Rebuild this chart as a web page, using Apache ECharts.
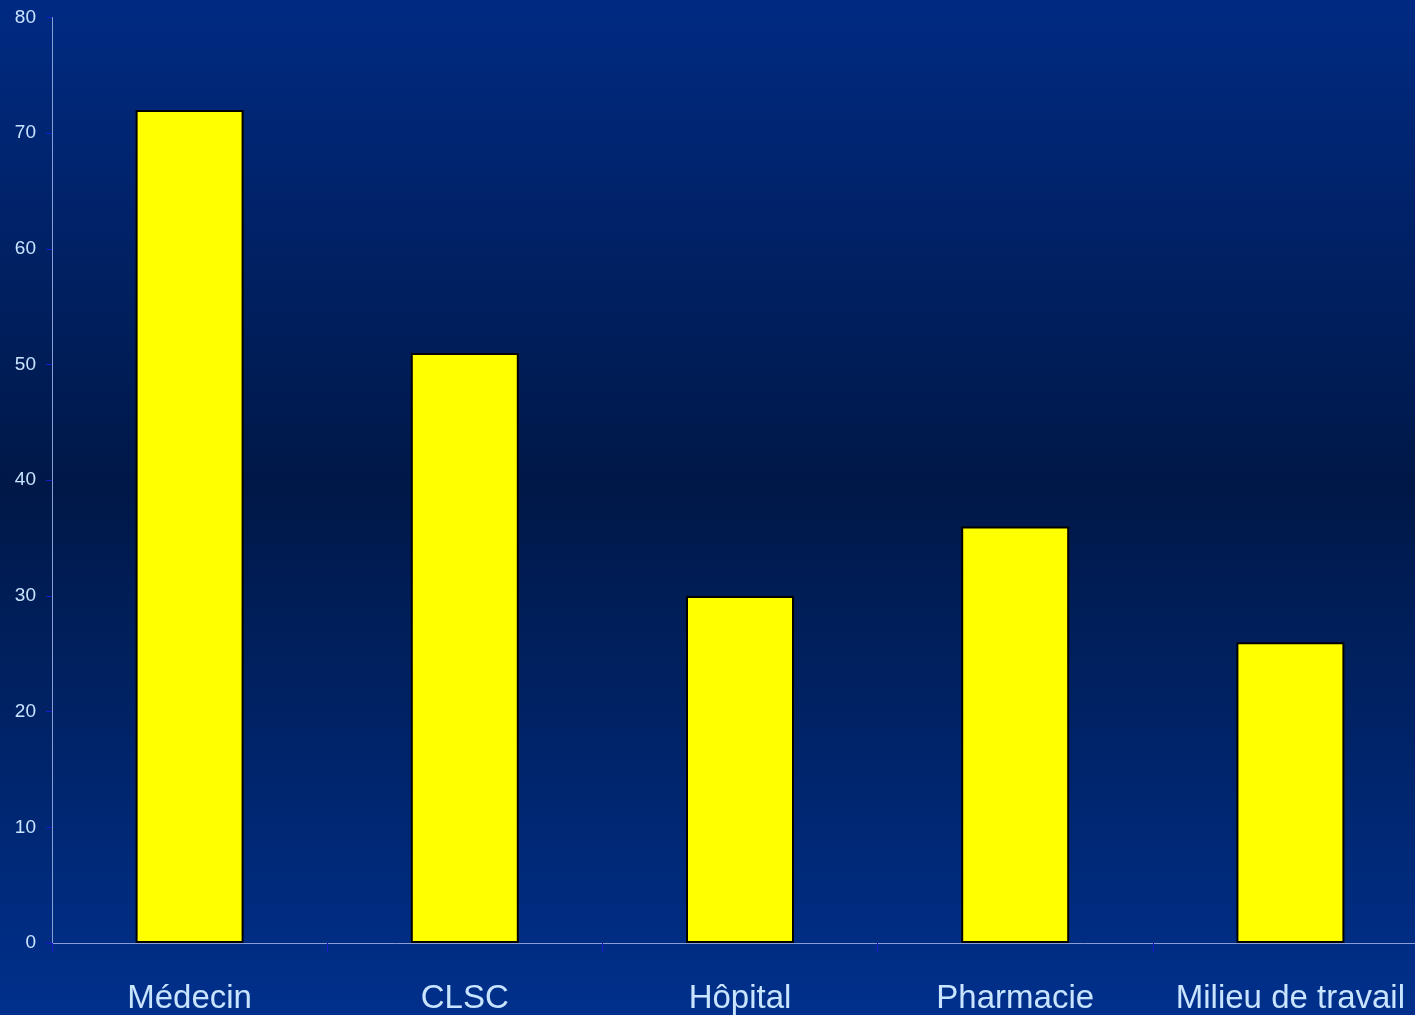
<!DOCTYPE html>
<html><head><meta charset="utf-8">
<script src="https://cdn.jsdelivr.net/npm/echarts@6/dist/echarts.min.js"></script>
<style>html,body{margin:0;padding:0;overflow:hidden;width:1415px;height:1015px;}#c{width:1428px;height:1015px;}</style>
</head><body><div id="c"></div>
<script>
const categories = ["Médecin", "CLSC", "Hôpital", "Pharmacie", "Milieu de travail"];
const values = [72, 51, 30, 36, 26];
const yTicks = [0, 10, 20, 30, 40, 50, 60, 70, 80];

const chart = echarts.init(document.getElementById('c'));
chart.setOption({
  backgroundColor: {
    type: 'linear', x: 0, y: 0, x2: 0, y2: 1,
    colorStops: [
      {offset: 0, color: '#002a82'},
      {offset: 0.48, color: '#001848'},
      {offset: 1, color: '#00308c'}
    ]
  },
  animation: false,
  grid: {left: 52, top: 17.5, bottom: 71.5, right: 0},
  xAxis: {
    type: 'category', data: categories,
    axisLine: {lineStyle: {color: '#8a9ed6', width: 1}},
    axisTick: {show: true, length: 9, lineStyle: {color: '#1a1acc'}},
    axisLabel: {interval: 0, color: '#c8e4ff', fontSize: 33, fontFamily: 'Liberation Sans, Arial, sans-serif', margin: 39}
  },
  yAxis: {
    type: 'value', min: 0, max: 80, interval: 10,
    axisLine: {show: true, lineStyle: {color: '#8a9ed6', width: 1}},
    axisTick: {show: true, length: 6, lineStyle: {color: '#1a1acc'}},
    splitLine: {show: false},
    axisLabel: {color: '#c8e4ff', fontSize: 19, fontFamily: 'Liberation Sans, Arial, sans-serif', margin: 16}
  },
  series: [{
    type: 'bar', data: values, barWidth: 108,
    itemStyle: {color: '#ffff00', borderColor: '#000000', borderWidth: 2}
  }]
});
</script></body></html>
